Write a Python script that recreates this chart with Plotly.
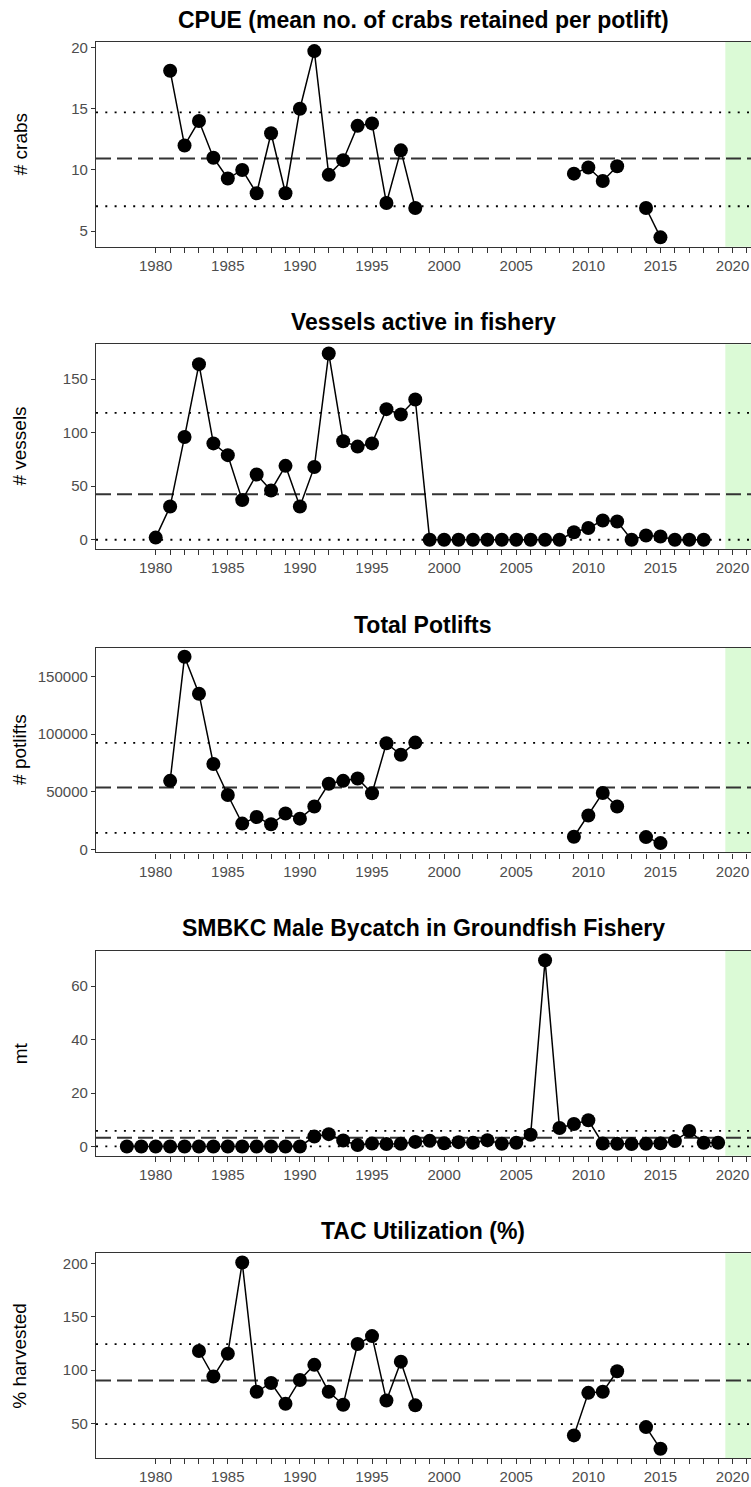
import plotly.graph_objects as go

# ---- data -------------------------------------------------------------
years_cpue = list(range(1981, 2016))
cpue = [18.1, 12.0, 14.0, 11.0, 9.3, 10.0, 8.1, 13.0, 8.1, 15.0,
        19.7, 9.6, 10.8, 13.6, 13.8, 7.3, 11.6, 6.9,
        None, None, None, None, None, None, None, None, None, None,
        9.7, 10.2, 9.1, 10.3, None, 6.9, 4.5]

years_vessels = list(range(1980, 2019))
vessels = [2, 31, 96, 164, 90, 79, 37, 61, 46, 69,
           31, 68, 174, 92, 87, 90, 122, 117, 131,
           0, 0, 0, 0, 0, 0, 0, 0, 0, 0,
           7, 11, 18, 17, 0, 4, 3, 0, 0, 0]

years_potlifts = list(range(1981, 2016))
potlifts = [59400, 167000, 135000, 74000, 47100, 22300, 28000, 21700, 31100, 26600,
            37100, 56900, 59400, 61400, 48600, 92000, 82000, 92600,
            None, None, None, None, None, None, None, None, None, None,
            10900, 29400, 48900, 37100, None, 10600, 5400]

years_bycatch = list(range(1978, 2020))
bycatch = [0, 0, 0, 0, 0, 0, 0, 0, 0, 0, 0, 0, 0,
           3.7, 4.6, 2.2, 0.5, 1.1, 0.9, 1.0, 1.7, 2.1, 1.2,
           1.6, 1.4, 2.3, 1.0, 1.4, 4.4, 69.7, 6.9, 8.4, 9.8,
           1.1, 1.0, 0.9, 1.0, 1.2, 2.0, 5.8, 1.4, 1.4]

years_tac = list(range(1983, 2016))
tac = [118, 94, 115.5, 201, 79.7, 88, 68.5, 90.8, 105, 79.7,
       67.6, 124.5, 132, 71.6, 108, 67,
       None, None, None, None, None, None, None, None, None, None,
       38.8, 78.7, 79.7, 99, None, 46.6, 26.2]

# reference lines: (mean, upper, lower)
ref_cpue = (10.94, 14.70, 7.04)
ref_vessels = (42.4, 118.5, 0)
ref_potlifts = (53700, 92300, 14300)
ref_bycatch = (3.3, 5.8, 0)
ref_tac = (90.2, 124.5, 49.4)

titles = ["CPUE (mean no. of crabs retained per potlift)",
          "Vessels active in fishery",
          "Total Potlifts",
          "SMBKC Male Bycatch in Groundfish Fishery",
          "TAC Utilization (%)"]
y_titles = ["# crabs", "# vessels", "# potlifts", "mt", "% harvested"]
y_dticks = [5, 50, 50000, 20, 50]

year_ticks = list(range(1980, 2022))
year_labels = [str(y) if y % 5 == 0 else "" for y in year_ticks]

# ---- layout geometry (pixels) ------------------------------------------
W, H = 751, 1487
panel_top = [39, 343, 648, 953, 1257]
panel_bot = [245, 549, 854, 1159, 1463]
title_y = [17, 321, 625, 930, 1235]
plot_left = 96
x_range = [1975.86, 2021.28]
shade_start = 2019.5

FONT = "Liberation Sans, Arial, sans-serif"
AXIS_COL = "#333333"
TICK_COL = "#4d4d4d"

panels = [
    (years_cpue, cpue, ref_cpue),
    (years_vessels, vessels, ref_vessels),
    (years_potlifts, potlifts, ref_potlifts),
    (years_bycatch, bycatch, ref_bycatch),
    (years_tac, tac, ref_tac),
]

fig = go.Figure()
layout = dict(
    width=W, height=H,
    margin=dict(l=0, r=0, t=0, b=0),
    paper_bgcolor="white", plot_bgcolor="white",
    showlegend=False,
    font=dict(family=FONT, color="black"),
    shapes=[], annotations=[],
)

for i, (yrs, vals, refs) in enumerate(panels):
    n = i + 1
    xa = "x" if n == 1 else f"x{n}"
    ya = "y" if n == 1 else f"y{n}"
    xkey = "xaxis" if n == 1 else f"xaxis{n}"
    ykey = "yaxis" if n == 1 else f"yaxis{n}"

    fig.add_trace(go.Scatter(
        x=yrs, y=vals, xaxis=xa, yaxis=ya,
        mode="lines+markers", connectgaps=False,
        line=dict(color="black", width=1.5),
        marker=dict(color="black", size=14),
        hoverinfo="x+y",
    ))

    present = [v for v in vals if v is not None]
    lo, hi = min(present), max(present)
    pad = 0.05 * (hi - lo)
    y_range = [lo - pad, hi + pad]

    layout[xkey] = dict(
        domain=[plot_left / W, 1.0], anchor=ya, range=x_range,
        tickmode="array", tickvals=year_ticks, ticktext=year_labels,
        ticks="outside", ticklen=5, tickwidth=1, tickcolor=AXIS_COL,
        tickfont=dict(size=15, color=TICK_COL, family=FONT),
        showgrid=False, zeroline=False,
        showline=True, linecolor=AXIS_COL, linewidth=1.3, mirror=True,
    )
    layout[ykey] = dict(
        domain=[(H - panel_bot[i]) / H, (H - panel_top[i]) / H],
        anchor=xa, range=y_range,
        tickmode="linear", tick0=0, dtick=y_dticks[i], tickformat="d",
        ticks="outside", ticklen=4, tickwidth=1, tickcolor=AXIS_COL,
        tickfont=dict(size=15, color=TICK_COL, family=FONT),
        showgrid=False, zeroline=False,
        showline=True, linecolor=AXIS_COL, linewidth=1.3, mirror=False,
    )

    # highlighted recent period
    layout["shapes"].append(dict(
        type="rect", xref=xa, yref=f"{ya} domain",
        x0=shade_start, x1=x_range[1], y0=0, y1=1,
        fillcolor="rgb(219,250,214)", line=dict(width=0), layer="below",
    ))
    mean_v, up_v, low_v = refs
    layout["shapes"].append(dict(
        type="line", xref=f"{xa} domain", yref=ya, x0=0, x1=1,
        y0=mean_v, y1=mean_v, layer="below",
        line=dict(color="#333333", width=2, dash="15px,6px"),
    ))
    for v in (up_v, low_v):
        layout["shapes"].append(dict(
            type="line", xref=f"{xa} domain", yref=ya, x0=0, x1=1,
            y0=v, y1=v, layer="below",
            line=dict(color="black", width=1.8, dash="2px,7.3px"),
        ))

    layout["annotations"].append(dict(
        text=f"<b>{titles[i]}</b>", xref="paper", yref="paper",
        x=423 / W, y=(H - title_y[i]) / H, xanchor="center", yanchor="middle",
        showarrow=False, font=dict(size=23, color="black", family=FONT),
    ))
    layout["annotations"].append(dict(
        text=y_titles[i], xref="paper", yref="paper",
        x=20 / W, y=(H - (panel_top[i] + panel_bot[i]) / 2) / H,
        xanchor="center", yanchor="middle", textangle=-90,
        showarrow=False, font=dict(size=19, color="black", family=FONT),
    ))

fig.update_layout(**layout)
fig.write_html("out.html")
